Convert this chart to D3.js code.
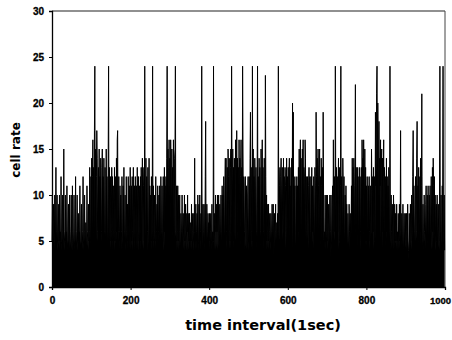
<!DOCTYPE html>
<html>
<head>
<meta charset="utf-8">
<script src="https://cdn.jsdelivr.net/npm/d3@7"></script>
<style>
  body { margin: 0; background: #fff; }
  text { font-weight: bold; fill: #000; }
</style>
</head>
<body>
<div id="chart"></div>
<script>
// cell rate per 1-second interval, t = 0..999 (rows of 25)
const cellRate = [
  5,10,4,6,9,5,4,10,6,5,13,4,6,10,5,4,6,9,5,10,4,6,5,12,5,
  4,6,10,5,4,15,6,5,4,10,5,6,4,11,5,4,6,9,5,4,10,6,4,5,10,
  5,4,11,6,5,4,10,5,4,6,12,5,4,6,10,5,4,8,5,6,4,11,5,4,6,
  9,5,4,6,12,5,4,6,10,5,4,7,5,4,11,6,5,4,9,5,6,13,5,4,12,
  5,14,6,12,16,5,13,6,17,24,6,15,5,12,17,14,6,5,13,6,15,5,12,6,14,
  5,6,13,15,5,12,4,14,5,6,13,5,6,15,5,12,4,6,14,24,5,13,6,4,12,
  5,6,13,4,12,5,6,11,5,13,4,6,12,5,14,6,16,17,5,6,12,4,6,11,5,
  10,4,6,12,5,4,11,5,13,4,6,10,5,4,12,6,5,9,4,12,5,6,11,4,13,
  5,4,11,5,12,6,4,13,5,6,11,4,12,5,6,11,4,13,5,4,12,6,5,11,4,
  12,5,13,4,6,14,5,4,11,13,5,24,6,4,14,5,12,4,6,13,5,4,14,5,11,
  5,10,4,12,5,6,24,5,11,4,6,10,5,4,12,5,6,9,4,11,5,6,10,4,11,
  5,4,12,6,5,11,4,6,12,5,4,13,6,11,5,12,6,14,24,5,15,6,13,16,5,
  14,5,16,12,6,15,5,13,6,16,11,5,14,15,24,6,5,11,4,6,11,5,10,4,6,
  10,5,4,8,6,5,10,4,6,8,5,4,10,5,6,9,4,5,8,6,10,4,5,8,5,
  8,5,4,7,5,9,4,6,8,4,5,8,6,14,4,5,9,4,6,8,5,10,4,5,9,
  5,10,4,6,8,5,24,5,4,9,6,4,9,5,4,12,18,5,4,9,6,4,8,5,7,
  4,8,5,6,8,4,5,9,3,6,5,24,5,4,8,6,10,4,5,9,6,10,4,5,10,
  5,4,9,6,5,10,4,6,11,5,10,4,12,6,5,11,14,5,14,6,4,13,5,15,12,
  5,14,6,4,13,15,5,24,12,6,15,5,13,4,14,6,5,16,12,5,17,6,14,5,13,
  6,16,5,14,4,12,16,5,13,6,24,15,5,12,4,6,11,12,5,4,11,6,4,10,12,
  5,4,12,6,14,19,5,13,6,4,24,5,15,6,12,5,14,11,5,13,6,4,12,24,5,
  12,5,14,6,13,4,6,15,5,12,16,5,13,6,4,14,5,6,23,12,5,10,4,6,9,
  5,9,4,6,8,4,5,8,6,4,9,5,6,9,3,5,8,4,6,9,5,4,7,5,8,
  5,24,6,5,11,13,5,12,14,6,11,13,5,6,14,5,12,6,13,11,4,6,14,5,12,
  5,13,6,12,14,5,11,6,13,5,14,4,20,12,19,5,11,6,12,5,4,11,6,12,5,
  11,5,13,6,15,5,12,16,5,14,4,6,15,5,16,6,13,12,5,16,14,5,12,6,5,
  12,6,4,11,13,5,12,6,4,12,5,13,6,11,5,4,12,6,5,13,11,5,19,12,6,
  14,5,15,11,6,13,15,5,12,4,14,11,5,13,6,19,10,5,6,4,10,5,4,10,6,
  5,10,4,6,9,5,4,10,3,6,10,5,4,9,11,5,16,6,5,12,6,24,11,5,13,
  5,12,6,11,14,4,6,13,5,11,24,5,12,6,4,14,11,5,12,4,6,10,4,11,5,
  9,5,4,8,5,4,9,6,4,8,5,6,11,5,14,6,13,5,14,11,4,12,22,5,13,
  5,6,13,4,12,5,6,13,5,12,6,4,13,5,16,11,14,5,16,12,6,15,5,13,4,
  11,5,12,4,6,11,5,12,6,4,11,5,6,15,11,5,12,6,13,4,6,12,5,19,11,
  14,21,24,13,20,16,5,18,6,14,11,16,5,13,15,6,14,4,12,16,5,13,11,4,12,
  5,14,6,12,4,11,5,13,6,4,24,5,4,10,6,4,9,5,4,10,6,4,9,5,8,
  5,4,9,5,6,4,8,5,4,9,5,6,17,5,4,8,5,4,9,3,5,8,4,6,8,
  5,4,8,6,4,9,5,4,3,8,5,4,9,5,4,10,6,5,12,17,5,11,4,6,9,
  12,5,6,14,18,5,11,4,13,6,5,12,4,14,6,11,21,5,4,9,5,4,10,6,5,
  4,9,11,5,6,10,4,11,5,6,10,4,11,5,6,12,5,4,13,6,14,11,5,12,6,
  10,5,4,9,5,10,4,6,9,5,4,10,24,5,6,10,4,5,11,6,24,5,4,10,4
];
const xTicks = [0, 200, 400, 600, 800, 1000];
const yTicks = [0, 5, 10, 15, 20, 25, 30];

const W = 452, H = 340;
const margin = { top: 11, right: 7, bottom: 53, left: 52 };
const iw = W - margin.left - margin.right;
const ih = H - margin.top - margin.bottom;

const svg = d3.select('#chart').append('svg')
  .attr('width', W)
  .attr('height', H);

const g = svg.append('g')
  .attr('transform', `translate(${margin.left},${margin.top})`);

const x = d3.scaleLinear().domain([0, 1000]).range([0, iw]);
const y = d3.scaleLinear().domain([0, 30]).range([ih, 0]);

// frame (top + right)
g.append('line').attr('x1', 0).attr('x2', iw).attr('y1', 0).attr('y2', 0)
  .attr('stroke', '#222').attr('stroke-width', 1.2);
g.append('line').attr('x1', iw).attr('x2', iw).attr('y1', 0).attr('y2', ih)
  .attr('stroke', '#444').attr('stroke-width', 1);

const data = cellRate.map((v, i) => ({ t: i, v }));

g.append('path')
  .datum(data)
  .attr('fill', '#000')
  .attr('d', d3.area().x(d => x(d.t)).y0(y(0)).y1(d => y(d.v)));

g.append('path')
  .datum(data)
  .attr('fill', 'none')
  .attr('stroke', '#000')
  .attr('stroke-width', 1)
  .attr('d', d3.line().x(d => x(d.t)).y(d => y(d.v)));

// axes
const yAxis = g.append('g')
  .call(d3.axisLeft(y).tickValues(yTicks).tickSize(3).tickPadding(5));
const xAxis = g.append('g')
  .attr('transform', `translate(0,${ih})`)
  .call(d3.axisBottom(x).tickValues(xTicks).tickFormat(d3.format('d')).tickSize(3).tickPadding(7));

[yAxis, xAxis].forEach(a => {
  a.select('.domain').attr('stroke', '#000').attr('stroke-width', 1.3);
  a.selectAll('.tick line').attr('stroke', '#000');
  a.selectAll('.tick text')
    .attr('font-size', 10)
    .attr('font-family', '"Liberation Sans", Arial, sans-serif')
    .attr('font-weight', 'bold')
    .attr('stroke', '#000')
    .attr('stroke-width', 0.3);
});
// last x label sits against the right edge
xAxis.selectAll('.tick text').filter(d => d === 1000)
  .attr('font-size', 9.5)
  .attr('dx', -5);

// axis titles
svg.append('text')
  .attr('x', 263)
  .attr('y', 330)
  .attr('text-anchor', 'middle')
  .attr('font-family', '"DejaVu Sans", sans-serif')
  .attr('font-size', 14.5)
  .text('time interval(1sec)');

svg.append('text')
  .attr('transform', 'translate(20,150) rotate(-90)')
  .attr('text-anchor', 'middle')
  .attr('font-family', '"DejaVu Sans", sans-serif')
  .attr('font-size', 12)
  .text('cell rate');
</script>
</body>
</html>
